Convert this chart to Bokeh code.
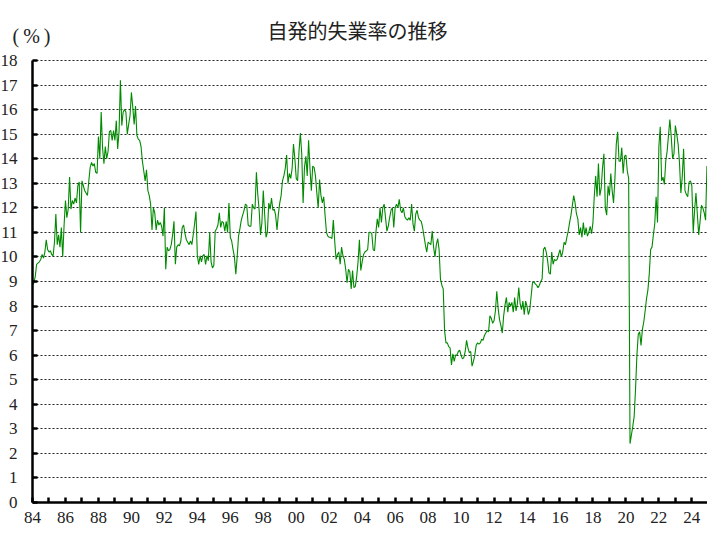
from bokeh.plotting import figure
from bokeh.models import ColumnDataSource, FixedTicker, Range1d, Label
from bokeh.embed import file_html
from bokeh.resources import INLINE

# Monthly voluntary unemployment rate (%), Jan 1984 - Dec 2024
rate_1984_1989 = [
    8.85, 8.95, 9.2, 9.7, 9.75, 9.8, 9.9, 10.1, 9.95, 10.2, 10.7, 10.3,
    10.2, 10.25, 10.1, 10.05, 10.6, 11.75, 10.5, 10.9, 10.4, 11.2, 10.0, 11.3,
    12.3, 11.6, 11.95, 13.25, 11.95, 12.3, 12.15, 12.4, 12.2, 12.9, 13.05, 11.0,
    13.1, 12.9, 12.7, 12.6, 12.5, 13.1, 13.65, 13.85, 13.7, 13.8, 13.45, 13.4,
    14.9, 14.0, 15.9, 14.45, 13.8, 14.5, 14.0, 14.3, 15.1, 15.15, 14.75, 15.15,
    14.75, 15.55, 14.4, 15.1, 17.2, 15.35, 15.9, 16.0, 15.9, 15.0, 15.4, 15.75,
]
rate_1990_1999 = [
    16.7, 16.1, 15.4, 16.15, 14.95, 14.8, 14.75, 14.5, 13.9, 13.5, 13.1, 13.55,
    12.7, 12.5, 12.15, 11.1, 12.0, 11.8, 11.1, 11.5, 11.3, 11.4, 11.25, 10.85,
    12.0, 9.5, 10.4, 10.25, 10.3, 10.5, 10.9, 11.45, 9.7, 10.4, 10.5, 10.45,
    10.65, 11.2, 11.3, 10.95, 10.7, 10.6, 10.5, 10.65, 10.5, 10.9, 11.35, 11.85,
    10.05, 9.7, 10.05, 9.8, 10.05, 10.1, 9.7, 10.05, 9.85, 11.0, 9.8, 9.55,
    9.65, 11.05, 11.15, 11.3, 11.8, 11.2, 11.45, 11.4, 11.05, 11.45, 11.0, 12.2,
    10.8, 10.65, 10.3, 10.0, 9.3, 10.0, 10.85, 11.15, 11.5, 11.7, 11.9, 12.15,
    12.1, 11.3, 11.25, 11.25, 12.15, 12.0, 11.95, 13.45, 12.55, 11.9, 10.9, 11.4,
    12.7, 11.75, 10.8, 11.0, 12.2, 11.95, 12.4, 11.9, 11.95, 11.7, 11.1, 11.75,
    12.2, 12.5, 13.1, 13.3, 13.6, 14.15, 13.0, 13.4, 13.2, 13.6, 14.6, 14.0,
]
rate_2000_2009 = [
    13.2, 13.1, 14.3, 15.05, 14.2, 12.2, 13.65, 14.1, 13.3, 14.75, 13.6, 12.7,
    13.7, 13.65, 13.3, 12.6, 12.0, 13.15, 12.5, 12.2, 12.45, 11.7, 11.0, 10.85,
    10.8, 10.8, 10.75, 11.5, 10.65, 9.9, 10.1, 10.2, 9.7, 10.4, 10.05, 9.9,
    9.5, 8.95, 9.5, 9.4, 8.7, 9.45, 8.75, 8.8, 9.2, 9.8, 10.7, 9.45,
    9.8, 10.1, 10.2, 10.25, 10.3, 11.0, 11.0, 10.95, 10.3, 10.25, 11.0, 11.55,
    11.2, 12.0, 11.4, 12.0, 12.15, 11.6, 11.05, 11.25, 11.6, 11.9, 12.0, 11.2,
    12.0, 12.15, 12.0, 12.35, 11.9, 11.8, 12.0, 11.65, 11.55, 11.5, 11.6, 11.5,
    12.15, 11.35, 11.05, 11.75, 11.9, 11.6, 11.5, 11.45, 11.2, 10.85, 10.5, 10.2,
    10.6, 10.55, 10.5, 11.05, 10.4, 10.0, 10.5, 10.75, 10.3, 9.1, 8.85, 8.7,
    7.0, 6.5, 6.5, 6.35, 6.3, 5.6, 6.05, 5.75, 6.0, 6.0, 6.15, 6.2,
]
rate_2010_2019 = [
    6.0, 5.85, 5.9, 6.15, 6.6, 6.3, 6.1, 6.15, 5.55, 5.75, 6.0, 6.4,
    6.5, 6.45, 6.5, 6.65, 6.6, 6.8, 6.9, 7.0, 6.95, 7.6, 7.5, 7.3,
    7.4, 7.8, 8.6, 7.9, 7.45, 7.2, 6.9, 7.6, 8.05, 8.35, 7.75, 8.15,
    8.0, 8.15, 7.75, 8.35, 7.8, 8.1, 8.75, 8.1, 7.85, 8.2, 7.65, 8.2,
    8.0, 7.65, 7.85, 8.4, 8.95, 9.0, 8.9, 8.85, 8.75, 8.85, 9.0, 9.1,
    10.3, 10.4, 10.2, 9.85, 9.35, 9.3, 10.2, 9.7, 9.9, 9.85, 9.9, 10.1,
    10.3, 10.0, 10.2, 10.6, 10.5, 10.8, 11.05, 11.4, 11.7, 12.1, 12.5, 12.2,
    11.75, 11.55, 10.9, 11.2, 10.8, 11.4, 10.9, 11.2, 10.85, 11.0, 11.25, 10.95,
    11.4, 12.5, 13.3, 12.45, 13.8, 12.5, 12.8, 13.65, 14.2, 12.0, 11.7, 12.9,
    12.5, 13.4, 12.7, 12.2, 13.2, 14.6, 15.1, 13.9, 13.9, 14.45, 13.4, 14.1,
]
rate_2020_2024 = [
    14.15, 13.5, 13.2, 2.4, 2.75, 3.1, 3.5, 4.6, 6.0, 6.85, 6.95, 6.4,
    7.05, 7.35, 7.8, 8.3, 8.65, 9.3, 10.3, 10.4, 10.9, 11.35, 12.45, 11.4,
    14.5, 15.3, 13.1, 13.25, 12.95, 13.9, 14.3, 14.95, 15.6, 14.9, 14.0, 14.2,
    15.35, 15.0, 14.6, 13.85, 12.6, 13.25, 14.4, 12.7, 12.55, 12.45, 13.05, 13.1,
    12.9, 11.0, 11.9, 12.6, 11.75, 10.9, 11.45, 12.1, 12.0, 11.8, 11.5, 13.7,
]

start_year = 1984
end_year = 2024.95
year_ticks = list(range(1984, 2025))
label_years = [1984, 1986, 1988, 1990, 1992, 1994, 1996, 1998, 2000, 2002, 2004,
               2006, 2008, 2010, 2012, 2014, 2016, 2018, 2020, 2022, 2024]
label_texts = ["84", "86", "88", "90", "92", "94", "96", "98", "00", "02", "04",
               "06", "08", "10", "12", "14", "16", "18", "20", "22", "24"]
y_ticks = list(range(0, 19))
y_top = 18

rates = rate_1984_1989 + rate_1990_1999 + rate_2000_2009 + rate_2010_2019 + rate_2020_2024
xs = [start_year + i / 12 for i in range(len(rates))]
src = ColumnDataSource(data=dict(x=xs, y=rates))

W, H = 707, 536
left_px, top_px, bottom_px = 32, 60, 502      # where 1984 / 18 / 0 sit on the canvas
px_per_year = (W - left_px) / (end_year - start_year)
px_per_unit = (bottom_px - top_px) / y_top
x_lo = start_year - left_px / px_per_year
y_lo = -(H - bottom_px) / px_per_unit
y_hi = y_top + top_px / px_per_unit

p = figure(width=W, height=H, output_backend="svg", toolbar_location=None,
           x_range=Range1d(x_lo, end_year), y_range=Range1d(y_lo, y_hi),
           min_border_left=0, min_border_right=0, min_border_top=0,
           min_border_bottom=0)
p.outline_line_color = None
p.background_fill_color = "white"
p.border_fill_color = "white"

p.line("x", "y", source=src, line_color="#008a00", line_width=1.1)

tick_font = "Liberation Serif"

# x axis (pinned at y = 0)
overrides = {y: "" for y in year_ticks}
for yy, t in zip(label_years, label_texts):
    overrides[yy] = t
p.xaxis.fixed_location = 0
p.xaxis.bounds = (start_year, end_year)
p.xaxis.ticker = FixedTicker(ticks=year_ticks)
p.xaxis.major_label_overrides = overrides
p.xaxis.minor_tick_line_color = None
p.xaxis.major_tick_in = 5
p.xaxis.major_tick_out = 0
p.xaxis.major_tick_line_width = 2.5
p.xaxis.axis_line_width = 2.5
p.xaxis.axis_line_color = "black"
p.xaxis.major_tick_line_color = "black"
p.xaxis.major_label_text_font = tick_font
p.xaxis.major_label_text_font_size = "17px"
p.xaxis.major_label_text_color = "#222222"
p.xaxis.major_label_standoff = 9

# y axis (pinned at 1984)
p.yaxis.fixed_location = start_year
p.yaxis.bounds = (0, y_top)
p.yaxis.ticker = FixedTicker(ticks=y_ticks)
p.yaxis.minor_tick_line_color = None
p.yaxis.major_tick_in = 5
p.yaxis.major_tick_out = 0
p.yaxis.major_tick_line_width = 2.5
p.yaxis.axis_line_width = 2.5
p.yaxis.axis_line_color = "black"
p.yaxis.major_tick_line_color = "black"
p.yaxis.major_label_text_font = tick_font
p.yaxis.major_label_text_font_size = "17px"
p.yaxis.major_label_text_color = "#222222"
p.yaxis.major_label_standoff = 15

# grid
p.xgrid.visible = False
g = p.ygrid[0]
g.ticker = FixedTicker(ticks=y_ticks[1:])
g.grid_line_color = "#222222"
g.grid_line_dash = "2 2"
g.grid_line_width = 1
if "cross_bounds" in g.properties():
    g.cross_bounds = (start_year, end_year)

title_x = start_year + (357 - left_px) / px_per_year
title_y = y_top + (top_px - 30) / px_per_unit
unit_x = start_year + (12 - left_px) / px_per_year
unit_y = y_top + (top_px - 35) / px_per_unit

title = Label(x=title_x, y=title_y,
              text="自発的失業率の推移", text_font="Noto Sans CJK JP",
              text_font_size="20px", text_color="#222222",
              text_align="center", text_baseline="middle")
p.add_layout(title)

unit = Label(x=unit_x, y=unit_y,
             text="(\u2009%\u2009)", text_font="Liberation Serif",
             text_font_size="20px", text_color="#222222",
             text_align="left", text_baseline="middle")
p.add_layout(unit)

open("out.html", "w").write(file_html(p, INLINE))
